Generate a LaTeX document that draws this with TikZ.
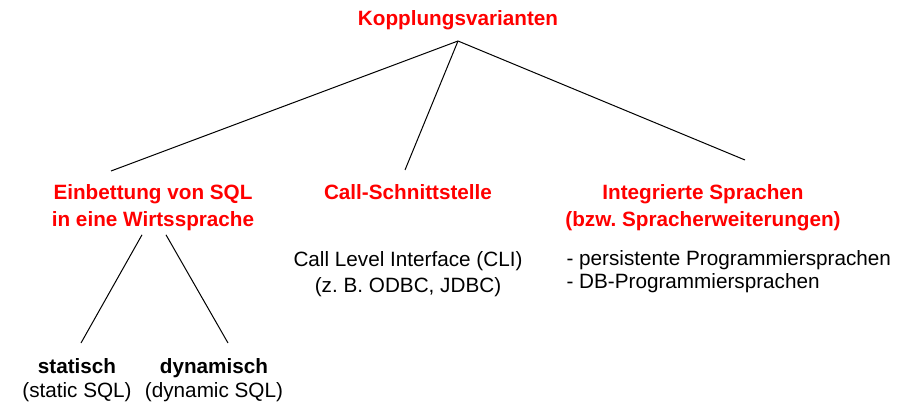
\documentclass[tikz,border=0pt]{standalone}
\usepackage{fontspec}
\setmainfont{Liberation Sans}
\frenchspacing
\definecolor{kred}{RGB}{255,0,0}
\begin{document}
\begin{tikzpicture}[x=1pt,y=-1pt,
  head/.style={text=kred,font=\fontsize{20.7}{27}\selectfont\bfseries,align=center},
  leaf/.style={font=\fontsize{20.7}{24}\selectfont,align=center}]
  \useasboundingbox (0,0) rectangle (908,406);
  % Wurzel
  \node[head,anchor=south,outer ysep=7.5pt] (kv) at (458,41) {Kopplungsvarianten};
  % zweite Ebene
  \node[head,anchor=base] (einb) at (153,227) {Einbettung von SQL\\in eine Wirtssprache};
  \node[head,anchor=base] (call) at (408,200) {Call-Schnittstelle};
  \node[head,anchor=base] (integ) at (703,227) {Integrierte Sprachen\\(bzw. Spracherweiterungen)};
  \node[leaf,anchor=base,font=\fontsize{20.7}{25}\selectfont] (cli) at (408,292) {Call Level Interface (CLI)\\(z. B. ODBC, JDBC)};
  \node[leaf,anchor=base west,align=left,font=\fontsize{20.7}{23}\selectfont] (lang) at (563,288) {- persistente Programmiersprachen\\- DB-Programmiersprachen};
  % Blaetter
  \node[leaf,anchor=base] (stat) at (77,397) {\textbf{statisch}\\(static SQL)};
  \node[leaf,anchor=base] (dyn) at (214,397) {\textbf{dynamisch}\\(dynamic SQL)};
  \coordinate (einbtip) at (111,171);
  \coordinate (calltip) at (405,170);
  \coordinate (integtip) at (745,160);
  \coordinate (stattip) at (81,343);
  \coordinate (dyntip) at (228,343);
  \draw[line width=1pt] (kv.south) -- (einbtip);
  \draw[line width=1pt] (kv.south) -- (calltip);
  \draw[line width=1pt] (kv.south) -- (integtip);
  \draw[line width=1pt] ([xshift=-11pt]einb.south) -- (stattip);
  \draw[line width=1pt] ([xshift=13pt]einb.south) -- (dyntip);
\end{tikzpicture}
\end{document}
